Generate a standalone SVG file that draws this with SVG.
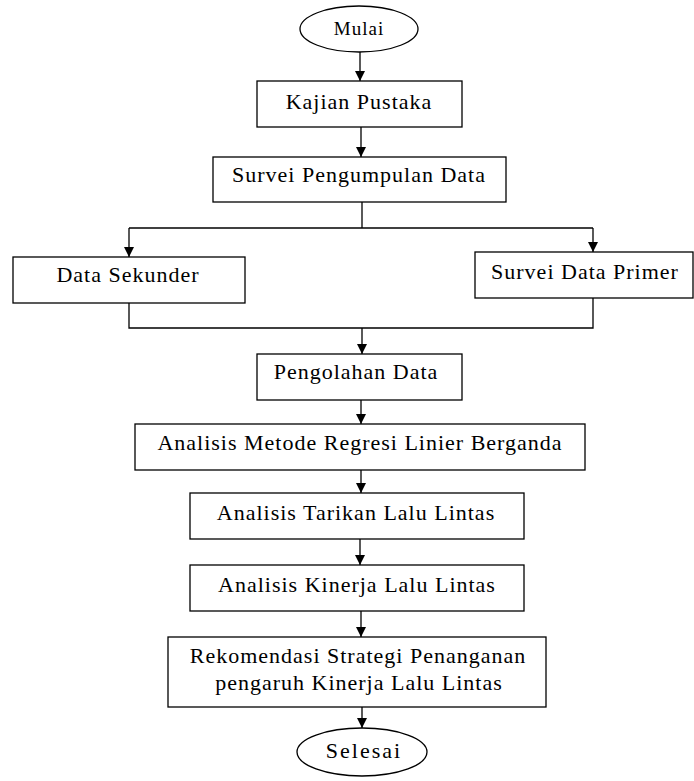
<svg xmlns="http://www.w3.org/2000/svg" width="694" height="781" viewBox="0 0 694 781">
<style>
.box{fill:#fff;stroke:#000;stroke-width:1.3}
.t{font-family:"Liberation Serif","Times New Roman",serif;font-size:22px;letter-spacing:1px;text-anchor:middle;fill:#000}
.c{fill:none;stroke:#000;stroke-width:1.3}
</style>
<defs>
<marker id="ah" viewBox="0 0 10 10" refX="10" refY="5" markerWidth="11" markerHeight="10" markerUnits="userSpaceOnUse" orient="auto">
<path d="M0,0 L10,5 L0,10 z" fill="#000"/>
</marker>
</defs>
<rect width="694" height="781" fill="#fff"/>
<g id="connectors">
<line class="c" x1="360" y1="52" x2="360" y2="81" marker-end="url(#ah)"/>
<line class="c" x1="361" y1="127" x2="361" y2="157" marker-end="url(#ah)"/>
<polyline class="c" points="362,202 362,228"/>
<polyline class="c" points="129,228 593,228"/>
<line class="c" x1="129" y1="228" x2="129" y2="257" marker-end="url(#ah)"/>
<line class="c" x1="593" y1="228" x2="593" y2="252" marker-end="url(#ah)"/>
<polyline class="c" points="129,303 129,328 593,328 593,298"/>
<line class="c" x1="362" y1="328" x2="362" y2="354" marker-end="url(#ah)"/>
<line class="c" x1="361" y1="400" x2="361" y2="424" marker-end="url(#ah)"/>
<line class="c" x1="361" y1="470" x2="361" y2="493" marker-end="url(#ah)"/>
<line class="c" x1="360" y1="539" x2="360" y2="565" marker-end="url(#ah)"/>
<line class="c" x1="361" y1="611" x2="361" y2="637" marker-end="url(#ah)"/>
<line class="c" x1="362" y1="707" x2="362" y2="728" marker-end="url(#ah)"/>
</g>
<g id="mulai">
<ellipse class="box" cx="359" cy="29" rx="59" ry="23"/>
<text class="t" x="359" y="35" style="font-size:19px">Mulai</text>
</g>
<g id="kajian">
<rect class="box" x="257" y="81" width="205" height="46"/>
<text class="t" x="359" y="109">Kajian Pustaka</text>
</g>
<g id="survei">
<rect class="box" x="213" y="157" width="293" height="45"/>
<text class="t" x="359" y="182">Survei Pengumpulan Data</text>
</g>
<g id="sekunder">
<rect class="box" x="13" y="257" width="232" height="46"/>
<text class="t" x="128" y="282">Data Sekunder</text>
</g>
<g id="primer">
<rect class="box" x="475" y="252" width="218" height="46"/>
<text class="t" x="585" y="279">Survei Data Primer</text>
</g>
<g id="pengolahan">
<rect class="box" x="257" y="354" width="205" height="46"/>
<text class="t" x="356" y="379">Pengolahan Data</text>
</g>
<g id="regresi">
<rect class="box" x="135" y="424" width="450" height="46"/>
<text class="t" x="360" y="450">Analisis Metode Regresi Linier Berganda</text>
</g>
<g id="tarikan">
<rect class="box" x="190" y="493" width="334" height="46"/>
<text class="t" x="356" y="520">Analisis Tarikan Lalu Lintas</text>
</g>
<g id="kinerja">
<rect class="box" x="190" y="565" width="334" height="46"/>
<text class="t" x="357" y="592">Analisis Kinerja Lalu Lintas</text>
</g>
<g id="rekomendasi">
<rect class="box" x="168" y="637" width="378" height="70"/>
<text class="t" x="358" y="663">Rekomendasi Strategi Penanganan</text>
<text class="t" x="359" y="690">pengaruh Kinerja Lalu Lintas</text>
</g>
<g id="selesai">
<ellipse class="box" cx="362" cy="752" rx="65" ry="24"/>
<text class="t" x="364" y="758" style="letter-spacing:2px">Selesai</text>
</g>
</svg>
